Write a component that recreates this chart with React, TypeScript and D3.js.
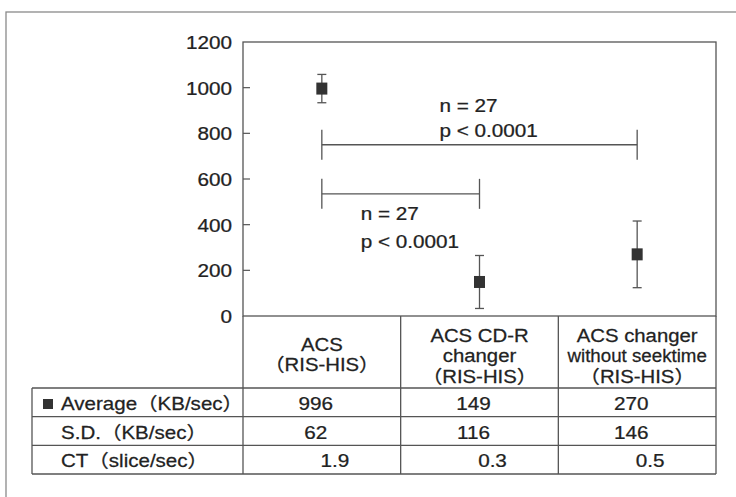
import React from 'react';
import * as d3 from 'd3';

// categories and values
const groups = ['ACS', 'ACS CD-R changer', 'ACS changer without seektime'];
const headerLines = [
    ['ACS', '（RIS-HIS）'],
    ['ACS CD-R', 'changer', '（RIS-HIS）'],
    ['ACS changer', 'without seektime', '（RIS-HIS）'],
];
const average = [996, 149, 270];
const sd = [62, 116, 146];
const ct = ['1.9', '0.3', '0.5'];
const rowLabels = ['Average（KB/sec）', 'S.D.（KB/sec）', 'CT（slice/sec）'];
const yTicks = [0, 200, 400, 600, 800, 1000, 1200];
const brackets = [
    { from: 0, to: 2, level: 750, n: 'n = 27', p: 'p < 0.0001', above: true },
    { from: 0, to: 1, level: 535, n: 'n = 27', p: 'p < 0.0001', above: false },
];

const FONT = "'Liberation Sans', Arial, 'Noto Sans CJK JP', sans-serif";
const INK = '#222';
const LINE = '#555';

const plot = { left: 243, right: 716, top: 42, bottom: 316 };
const tableBottom = 474;
const labelLeft = 32;
const headerBottom = 388;

// scanned text is a bit wider than regular Arial, so stretch it horizontally
const Txt = ({ x, y, children, anchor = 'start', sx = 1.15, size = 18 }) => (
    <text
        transform={`translate(${x},${y}) scale(${sx},1)`}
        textAnchor={anchor}
        fontSize={size}
        fontFamily={FONT}
        fill={INK}
        stroke={INK}
        strokeWidth={0.25}
    >
        {children}
    </text>
);

const App = () => {
    const x = d3.scaleBand().domain(groups).range([plot.left, plot.right]);
    const y = d3.scaleLinear().domain([0, 1200]).range([plot.bottom, plot.top]);
    const rowScale = d3.scaleBand().domain(rowLabels).range([headerBottom, tableBottom]);
    const cx = (i) => x(groups[i]) + x.bandwidth() / 2;

    const rowValues = [average.map(String), sd.map(String), ct];
    const rowShift = [-6, -6, 13];

    return (
        <svg width={736} height={497} style={{ position: 'absolute', left: 0, top: 0, background: '#fff' }}>
            {/* outer frame of the scanned page */}
            <rect x={6} y={12} width={760} height={520} fill="none" stroke="#8a8a8a" strokeWidth={1.3} />

            {/* plot frame */}
            <rect
                x={plot.left}
                y={plot.top}
                width={plot.right - plot.left}
                height={plot.bottom - plot.top}
                fill="none"
                stroke={LINE}
                strokeWidth={1.3}
            />

            {/* y axis ticks and labels */}
            {yTicks.map((t) => (
                <g key={t}>
                    {t > 0 && t < 1200 && (
                        <line x1={plot.left} x2={plot.left + 7} y1={y(t)} y2={y(t)} stroke={LINE} strokeWidth={1.2} />
                    )}
                    <Txt x={232} y={y(t) + 7} anchor="end">{t}</Txt>
                </g>
            ))}

            {/* significance brackets */}
            {brackets.map((b, i) => {
                const x1 = cx(b.from);
                const x2 = cx(b.to);
                const yy = y(b.level);
                const tx = (x1 + x2) / 2 - 40;
                return (
                    <g key={i}>
                        <line x1={x1} x2={x2} y1={yy} y2={yy} stroke={LINE} strokeWidth={1.3} />
                        <line x1={x1} x2={x1} y1={yy - 15} y2={yy + 15} stroke={LINE} strokeWidth={1.3} />
                        <line x1={x2} x2={x2} y1={yy - 15} y2={yy + 15} stroke={LINE} strokeWidth={1.3} />
                        {b.above ? (
                            <>
                                <Txt x={tx} y={yy - 33}>{b.n}</Txt>
                                <Txt x={tx} y={yy - 8}>{b.p}</Txt>
                            </>
                        ) : (
                            <>
                                <Txt x={tx} y={yy + 26}>{b.n}</Txt>
                                <Txt x={tx} y={yy + 54}>{b.p}</Txt>
                            </>
                        )}
                    </g>
                );
            })}

            {/* mean +- SD markers */}
            {groups.map((g, i) => {
                const px = cx(i);
                const top = y(average[i] + sd[i]);
                const bot = y(Math.max(0, average[i] - sd[i]));
                return (
                    <g key={g}>
                        <line x1={px} x2={px} y1={top} y2={bot} stroke={LINE} strokeWidth={1.3} />
                        <line x1={px - 4.5} x2={px + 4.5} y1={top} y2={top} stroke={LINE} strokeWidth={1.3} />
                        <line x1={px - 4.5} x2={px + 4.5} y1={bot} y2={bot} stroke={LINE} strokeWidth={1.3} />
                        <rect x={px - 5.5} y={y(average[i]) - 6} width={11} height={12} fill="#333" />
                    </g>
                );
            })}

            {/* table: header cells under the plot */}
            <line x1={plot.left} x2={plot.left} y1={plot.bottom} y2={tableBottom} stroke={LINE} strokeWidth={1.3} />
            <line x1={plot.right} x2={plot.right} y1={plot.bottom} y2={tableBottom} stroke={LINE} strokeWidth={1.3} />
            {groups.slice(1).map((g) => (
                <line key={g} x1={x(g)} x2={x(g)} y1={plot.bottom} y2={tableBottom} stroke={LINE} strokeWidth={1.3} />
            ))}
            {headerLines.map((lines, i) => lines.map((txt, j) => {
                const mid = lines.length === 2 ? 361 : 362;
                const yy = mid - ((lines.length - 1) * 20.5) / 2 + j * 20.5;
                const sx = txt === 'without seektime' ? 1.04 : 1.13;
                return <Txt key={`${i}-${j}`} x={cx(i)} y={yy} anchor="middle" sx={sx}>{txt}</Txt>;
            }))}

            {/* table: rows */}
            <line x1={labelLeft} x2={labelLeft} y1={headerBottom} y2={tableBottom} stroke={LINE} strokeWidth={1.3} />
            {rowLabels.map((r) => (
                <line key={r} x1={labelLeft} x2={plot.right} y1={rowScale(r)} y2={rowScale(r)} stroke={LINE} strokeWidth={1.3} />
            ))}
            <line x1={labelLeft} x2={plot.right} y1={tableBottom} y2={tableBottom} stroke={LINE} strokeWidth={1.3} />
            <rect x={43} y={rowScale(rowLabels[0]) + 11} width={10} height={10} fill="#333" />
            {rowLabels.map((r, ri) => (
                <g key={r}>
                    <Txt x={61} y={rowScale(r) + 22} sx={1.14}>{r}</Txt>
                    {rowValues[ri].map((v, i) => (
                        <Txt key={i} x={cx(i) + rowShift[ri]} y={rowScale(r) + 22} anchor="middle">{v}</Txt>
                    ))}
                </g>
            ))}
        </svg>
    );
};

export default App;
